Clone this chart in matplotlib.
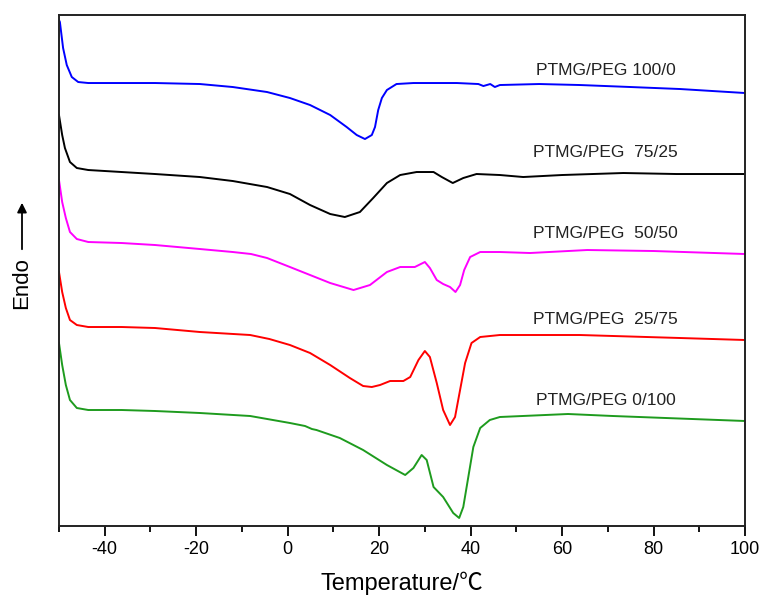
import matplotlib
matplotlib.use('Agg')
import matplotlib.pyplot as plt
from matplotlib.ticker import MultipleLocator, NullLocator

plt.rcParams['font.family'] = ['Liberation Sans', 'Noto Sans CJK SC', 'DejaVu Sans']
plt.rcParams['axes.unicode_minus'] = False

# DSC curves, heat flow in arbitrary units (each sample shifted vertically)
t_100_0 = [-50, -49.8, -49.1, -48.3, -47.2, -45.8, -43.6, -36.3, -29, -19.2, -12, -4.5, 0.5, 4.9,
           9.3, 12.9, 15.1, 16.9, 18.4, 19.1, 19.8, 20.6, 21.7, 23.8, 27.5, 37, 41.7, 42.8,
           44.3, 45.3, 46.4, 55, 63.9, 75, 85.8, 100]
y_100_0 = [506, 504, 478, 461, 449, 444, 443, 443, 443, 442, 439, 434, 428, 421,
           411, 399, 391, 387, 391, 399, 416, 428, 436, 442, 443, 443, 442, 440,
           442, 439, 441, 442, 441, 439, 437, 433]

t_75_25 = [-50, -49.3, -48.7, -47.6, -46.1, -43.6, -36.3, -29, -19.2, -12, -4.5, 0.5, 4.9, 9.3,
           12.5, 15.8, 18.7, 21.7, 24.6, 28.2, 31.9, 33.7, 36.1, 38.4, 41.3, 46.4, 51.5,
           60, 73.4, 85, 100]
y_75_25 = [411, 391, 378, 364, 358, 356, 354, 352, 349, 345, 339, 332, 321, 312,
           309, 314, 328, 343, 351, 354, 354, 349, 343, 348, 352, 351, 349,
           351, 353, 352, 352]

t_50_50 = [-50, -49.3, -48.5, -47.6, -46.1, -43.6, -36.3, -29, -19.2, -12, -8, -4.5, 0.5, 4.9,
           9.3, 14.4, 18, 21.7, 24.6, 27.8, 30, 31.1, 32.6, 34, 35.5, 36.7, 37.7, 38.6, 39.9,
           42.1, 46.4, 53, 65.5, 80, 100]
y_50_50 = [346, 324, 308, 294, 287, 284, 283, 281, 277, 274, 272, 268, 259, 251,
           243, 236, 241, 254, 259, 259, 264, 258, 246, 242, 239, 234, 241, 256, 269,
           274, 274, 273, 276, 275, 272]

t_25_75 = [-50, -49.3, -48.5, -47.6, -46.1, -43.6, -36.3, -29, -19.2, -8.2, -4, 0.5, 4.9, 9.3,
           13.6, 16.5, 18.4, 20.2, 22.4, 25.3, 26.8, 28.6, 30, 31.1, 32.6, 34, 35.5, 36.6,
           37.7, 38.8, 40.2, 42.1, 46.4, 51.5, 63.9, 85.8, 100]
y_25_75 = [254, 234, 218, 206, 201, 199, 199, 198, 194, 191, 187, 181, 173, 161,
           148, 140, 139, 141, 145, 145, 149, 166, 175, 169, 143, 116, 101, 109,
           136, 163, 183, 189, 191, 191, 191, 188, 186]

t_0_100 = [-50, -49.3, -48.5, -47.6, -46.1, -43.6, -36.3, -29, -19.2, -8.2, 0.5, 3.8, 5.3,
           6.3, 11.4, 16.5, 21.7, 25.7, 27.5, 29.3, 30.4, 31.9, 34, 36.2, 37.5, 38.4, 39.5,
           40.6, 42.1, 44.2, 46.4, 61.3, 71.1, 100]
y_0_100 = [183, 161, 141, 126, 118, 116, 116, 115, 113, 110, 103, 100, 97,
           96, 88, 76, 61, 51, 58, 71, 66, 39, 29, 13, 8, 19, 49,
           79, 98, 106, 109, 112, 110, 105]

colors = ['#0000ff', '#000000', '#ff00ff', '#ff0000', '#1e9b1e']
labels = ['PTMG/PEG 100/0', 'PTMG/PEG  75/25', 'PTMG/PEG  50/50', 'PTMG/PEG  25/75', 'PTMG/PEG 0/100']
label_y = [456, 374, 293, 207, 126]
series = [(t_100_0, y_100_0), (t_75_25, y_75_25), (t_50_50, y_50_50),
          (t_25_75, y_25_75), (t_0_100, y_0_100)]

fig = plt.figure(figsize=(7.62, 6.01), dpi=100)
ax = fig.add_axes([0.0774, 0.1248, 0.9003, 0.8502])

for (t, y), c, lab, ly in zip(series, colors, labels, label_y):
    ax.plot(t, y, color=c, lw=1.4, solid_joinstyle='round')
    ax.text(69.5, ly, lab, color='#222222', fontsize=12.5, ha='center', va='center')

ax.set_xlim(-50, 100)
ax.set_ylim(0, 511)
ax.xaxis.set_major_locator(MultipleLocator(20))
ax.xaxis.set_minor_locator(MultipleLocator(10))
ax.yaxis.set_major_locator(NullLocator())
ax.tick_params(axis='x', which='major', length=7, width=1.3, labelsize=13, direction='out')
ax.tick_params(axis='x', which='minor', length=4.5, width=1.3, direction='out')
for s in ax.spines.values():
    s.set_linewidth(1.4)
    s.set_color('#222222')

ax.set_xlabel('Temperature/℃', fontsize=17, labelpad=10)

fig.text(22 / 762, 1 - 283 / 601, 'Endo', rotation=90, fontsize=16, ha='center', va='center')
ax.annotate('', xy=(22 / 762, 1 - 200 / 601), xytext=(22 / 762, 1 - 252 / 601),
            xycoords='figure fraction', textcoords='figure fraction',
            arrowprops=dict(arrowstyle='-|>', color='black', lw=1.3, mutation_scale=14))

fig.savefig('out.png', dpi=100)
